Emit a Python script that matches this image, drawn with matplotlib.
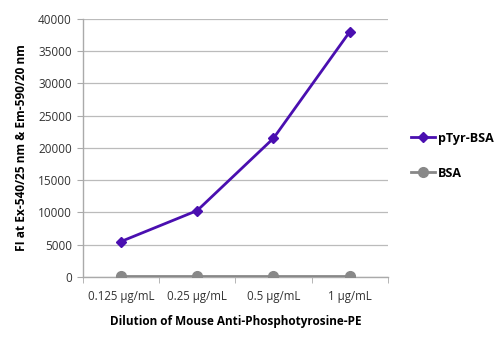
import matplotlib.pyplot as plt
import numpy as np

plt.rcParams['font.family'] = ['Open Sans', 'DejaVu Sans']

categories = ["0.125 µg/mL", "0.25 µg/mL", "0.5 µg/mL", "1 µg/mL"]
ptyr_bsa = [5500, 10300, 21500, 38000]
bsa = [80, 80, 80, 80]
y_ticks = [0, 5000, 10000, 15000, 20000, 25000, 30000, 35000, 40000]

fig = plt.figure(figsize=(4.96, 3.37), dpi=100)
ax = fig.add_axes([0.167, 0.178, 0.615, 0.766])

x = np.arange(len(categories))
ax.plot(x, ptyr_bsa, color="#4a0fb0", linewidth=2, marker="D", markersize=5,
        label="pTyr-BSA", zorder=3)
ax.plot(x, bsa, color="#888888", linewidth=2, marker="o", markersize=7,
        label="BSA", zorder=3)

ax.set_xlim(-0.5, len(categories) - 0.5)
ax.set_ylim(0, 40000)
ax.set_yticks(y_ticks)
ax.set_yticklabels([str(v) for v in y_ticks], fontsize=8.5, color="#333333")
ax.set_xticks(x)
ax.set_xticklabels(categories, fontsize=8.3, color="#333333")
ax.set_xticks(np.arange(-0.5, len(categories), 1), minor=True)
ax.tick_params(axis="x", which="major", length=0, pad=9)
ax.tick_params(axis="x", which="minor", length=4, color="#aaaaaa")
ax.tick_params(axis="y", length=4, color="#aaaaaa", pad=4)

ax.grid(axis="y", color="#bbbbbb", linewidth=0.9)
ax.set_axisbelow(True)
for s in ["top", "right"]:
    ax.spines[s].set_visible(False)
for s in ["left", "bottom"]:
    ax.spines[s].set_color("#aaaaaa")
    ax.spines[s].set_linewidth(1)

ax.set_xlabel("Dilution of Mouse Anti-Phosphotyrosine-PE", fontsize=8.5,
              fontweight="bold", labelpad=9)
ax.set_ylabel("FI at Ex-540/25 nm & Em-590/20 nm", fontsize=8.6,
              fontweight="bold", labelpad=7)

leg = ax.legend(loc="center left", bbox_to_anchor=(1.04, 0.47), frameon=False,
                fontsize=9, handlelength=1.9, labelspacing=1.75,
                handletextpad=0.2)
for t in leg.get_texts():
    t.set_fontweight("bold")

fig.savefig("out.png", dpi=100)
